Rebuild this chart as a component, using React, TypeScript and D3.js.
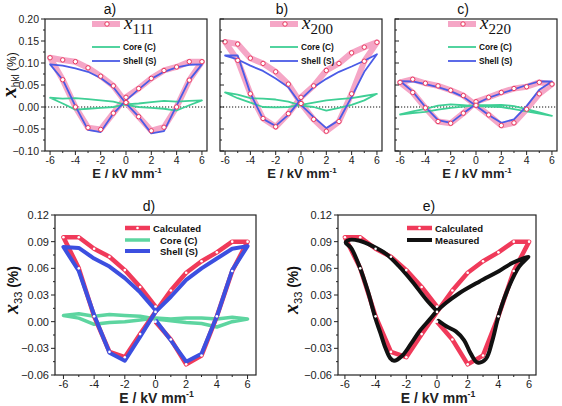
import React from "react";
import * as d3 from "d3";

// ---------- data ----------
// loop field sequence (kV/mm) shared by the calculated/core/shell loops
const LOOP_E = [0, 1, 2, 3, 4, 5, 6, 5, 4, 3, 2, 1, 0, -1, -2, -3, -4, -5, -6, -5, -4, -3, -2, -1, 0];

// panel a) x111
const A_CALC = [0.010, -0.022, -0.054, -0.046, 0.0, 0.061, 0.103, 0.103, 0.091, 0.083, 0.065, 0.042, 0.022, -0.014, -0.051, -0.047, 0.0, 0.062, 0.112, 0.107, 0.103, 0.089, 0.070, 0.048, 0.010];
const A_CORE = [0.005, 0.0, -0.002, -0.004, -0.008, 0.004, 0.015, 0.014, 0.012, 0.014, 0.011, 0.008, 0.006, 0.0, -0.002, -0.004, -0.006, 0.008, 0.021, 0.019, 0.020, 0.018, 0.015, 0.012, 0.005];
const A_SHELL = [0.008, -0.022, -0.060, -0.055, 0.003, 0.061, 0.097, 0.096, 0.090, 0.080, 0.064, 0.040, 0.015, -0.015, -0.057, -0.052, 0.002, 0.062, 0.097, 0.094, 0.088, 0.080, 0.066, 0.045, 0.008];

// panel b) x200
const B_CALC = [0.008, -0.028, -0.055, -0.033, 0.030, 0.104, 0.147, 0.136, 0.123, 0.099, 0.083, 0.048, 0.022, -0.015, -0.045, -0.026, 0.030, 0.106, 0.148, 0.143, 0.111, 0.099, 0.080, 0.052, 0.008];
const B_CORE = [0.003, 0.0, -0.008, -0.002, 0.005, 0.015, 0.030, 0.025, 0.020, 0.018, 0.015, 0.010, 0.005, 0.0, -0.001, 0.0, 0.010, 0.020, 0.033, 0.028, 0.020, 0.019, 0.017, 0.012, 0.003];
const B_SHELL = [0.005, -0.023, -0.048, -0.030, 0.023, 0.080, 0.120, 0.105, 0.092, 0.080, 0.064, 0.045, 0.018, -0.018, -0.043, -0.027, 0.031, 0.117, 0.117, 0.108, 0.094, 0.082, 0.065, 0.045, 0.005];

// panel c) x220
const C_CALC = [0.004, -0.018, -0.042, -0.036, -0.005, 0.030, 0.052, 0.056, 0.046, 0.042, 0.033, 0.022, 0.012, -0.014, -0.037, -0.033, -0.002, 0.033, 0.056, 0.063, 0.054, 0.048, 0.038, 0.026, 0.004];
const C_CORE = [0.004, 0.004, 0.005, 0.002, -0.005, -0.012, -0.020, -0.015, -0.010, -0.005, 0.0, 0.001, 0.002, 0.004, 0.006, 0.003, -0.004, -0.010, -0.017, -0.014, -0.011, -0.006, -0.002, 0.001, 0.004];
const C_SHELL = [0.003, -0.018, -0.036, -0.028, 0.002, 0.039, 0.058, 0.058, 0.050, 0.040, 0.031, 0.021, 0.007, -0.014, -0.036, -0.030, 0.0, 0.035, 0.059, 0.058, 0.052, 0.045, 0.036, 0.023, 0.003];

// panels d) / e) x33
const D_CALC = [0.0, -0.020, -0.048, -0.038, 0.006, 0.057, 0.090, 0.090, 0.078, 0.068, 0.055, 0.035, 0.011, -0.014, -0.040, -0.034, 0.006, 0.060, 0.095, 0.095, 0.082, 0.073, 0.058, 0.039, 0.017];
const D_CORE = [0.003, 0.001, -0.001, -0.002, -0.006, 0.0, 0.003, 0.005, 0.003, 0.004, 0.004, 0.003, 0.004, 0.002, 0.0, -0.001, -0.003, 0.004, 0.007, 0.009, 0.006, 0.008, 0.007, 0.006, 0.003];
const D_SHELL = [0.002, -0.021, -0.045, -0.036, 0.006, 0.058, 0.085, 0.082, 0.071, 0.060, 0.047, 0.028, 0.011, -0.017, -0.044, -0.035, 0.0075, 0.057, 0.084, 0.083, 0.071, 0.062, 0.049, 0.033, 0.013];

// measured loop (panel e)
const MEAS_E = [0.1, 0.69, 1.23, 1.77, 2.2, 2.64, 3.18, 3.61, 4.05, 4.7, 5.35, 5.9, 5.95, 4.9, 4.05, 2.75, 1.45, 0.58, 0.0, -0.5, -1.15, -1.7, -2.25, -2.8, -3.05, -3.35, -3.7, -4.0, -4.5, -5.05, -5.6, -5.95, -5.7, -5.05, -4.2, -3.3, -2.45, -1.6, -0.7, -0.07];
const MEAS_V = [0.001, -0.006, -0.011, -0.021, -0.036, -0.046, -0.042, -0.021, 0.009, 0.040, 0.062, 0.072, 0.073, 0.066, 0.057, 0.045, 0.032, 0.021, 0.012, 0.002, -0.011, -0.025, -0.038, -0.044, -0.041, -0.030, -0.012, 0.003, 0.034, 0.062, 0.083, 0.089, 0.092, 0.091, 0.085, 0.076, 0.062, 0.045, 0.025, 0.013];

const X_TICKS = [-6, -4, -2, 0, 2, 4, 6];
const X_MINOR = [-5, -3, -1, 1, 3, 5];
const TOP_Y_TICKS = [-0.1, -0.05, 0, 0.05, 0.1, 0.15, 0.2];
const TOP_Y_MINOR = [-0.075, -0.025, 0.025, 0.075, 0.125, 0.175];
const BOT_Y_TICKS = [-0.06, -0.03, 0, 0.03, 0.06, 0.09, 0.12];
const BOT_Y_MINOR = [-0.045, -0.015, 0.015, 0.045, 0.075, 0.105];

const PINK = "#f5a6c6";
const PINK_EDGE = "#e8385e";
const GREEN = "#3fcf95";
const BLUE = "#4a5be6";
const RED = "#f03a5a";
const BLUE2 = "#3c4fe0";
const GREEN2 = "#5dd5a0";
const SANS = "'Liberation Sans', Arial, sans-serif";
const SERIF = "'Liberation Serif', 'Times New Roman', serif";

type Frame = { x0: number; x1: number; y0: number; y1: number };

function Axes(props: {
  f: Frame;
  x: d3.ScaleLinear<number, number>;
  y: d3.ScaleLinear<number, number>;
  yTicks: number[];
  yMinor: number[];
  showYLabels: boolean;
  yInward: boolean;
  fs: number;
  xLabelY: number;
  titleY: number;
  titleFs: number;
}) {
  const { f, x, y, yTicks, yMinor, showYLabels, yInward, fs, xLabelY, titleY, titleFs } = props;
  const fmt = d3.format(".2f");
  const yd = yInward ? 1 : -1;
  return (
    <g>
      <rect x={f.x0} y={f.y0} width={f.x1 - f.x0} height={f.y1 - f.y0} fill="none" stroke="#222" strokeWidth={1.2} />
      {X_TICKS.map((t) => (
        <g key={"xt" + t}>
          <line x1={x(t)} x2={x(t)} y1={f.y1} y2={f.y1 + 4} stroke="#222" strokeWidth={1} />
          <text x={x(t)} y={xLabelY} fontSize={fs} fontFamily={SANS} textAnchor="middle" fill="#222">
            {t}
          </text>
        </g>
      ))}
      {X_MINOR.map((t) => (
        <line key={"xm" + t} x1={x(t)} x2={x(t)} y1={f.y1} y2={f.y1 + 2} stroke="#222" strokeWidth={1} />
      ))}
      {yTicks.map((t) => (
        <g key={"yt" + t}>
          <line x1={f.x0} x2={f.x0 + yd * 4} y1={y(t)} y2={y(t)} stroke="#222" strokeWidth={1} />
          {showYLabels && (
            <text x={f.x0 - 6} y={y(t) + fs * 0.36} fontSize={fs} fontFamily={SANS} textAnchor="end" fill="#222">
              {fmt(t)}
            </text>
          )}
        </g>
      ))}
      {yMinor.map((t) => (
        <line key={"ym" + t} x1={f.x0} x2={f.x0 + yd * 2} y1={y(t)} y2={y(t)} stroke="#222" strokeWidth={1} />
      ))}
      <text x={(f.x0 + f.x1) / 2 + 1} y={titleY} fontSize={titleFs} fontWeight="bold" fontFamily={SANS} textAnchor="middle" fill="#222">
        E / kV mm<tspan dy={-titleFs * 0.42} fontSize={titleFs * 0.62}>-1</tspan>
      </text>
    </g>
  );
}

function loopPath(x: d3.ScaleLinear<number, number>, y: d3.ScaleLinear<number, number>, es: number[], vs: number[], curve?: d3.CurveFactory) {
  const line = d3
    .line<number>()
    .x((_, i) => x(es[i]))
    .y((v) => y(v));
  if (curve) line.curve(curve);
  return line(vs) || "";
}

function TopPanel(props: {
  f: Frame;
  calc: number[];
  core: number[];
  shell: number[];
  label: string;
  sub: string;
  titleX: number;
  legX: number;
  showYLabels: boolean;
}) {
  const { f, calc, core, shell, label, sub, titleX, legX, showYLabels } = props;
  const x = d3.scaleLinear().domain([-6.4, 6.4]).range([f.x0, f.x1]);
  const y = d3.scaleLinear().domain([-0.1, 0.2]).range([f.y1, f.y0]);
  const clipId = "clip" + label.replace(/\W/g, "");
  return (
    <g>
      <defs>
        <clipPath id={clipId}>
          <rect x={f.x0} y={f.y0} width={f.x1 - f.x0} height={f.y1 - f.y0} />
        </clipPath>
      </defs>
      <text x={titleX} y={14} fontSize={14} fontFamily={SANS} textAnchor="middle" fill="#111">
        {label}
      </text>
      <g clipPath={`url(#${clipId})`}>
        <line x1={f.x0} x2={f.x1} y1={y(0)} y2={y(0)} stroke="#111" strokeWidth={1.1} strokeDasharray="1.2,1.8" />
        <path d={loopPath(x, y, LOOP_E, calc)} fill="none" stroke={PINK} strokeWidth={6} strokeLinejoin="round" />
        <path d={loopPath(x, y, LOOP_E, core)} fill="none" stroke={GREEN} strokeWidth={1.8} strokeLinejoin="round" />
        <path d={loopPath(x, y, LOOP_E, shell)} fill="none" stroke={BLUE} strokeWidth={1.8} strokeLinejoin="round" />
        {calc.map((v, i) => (
          <circle key={i} cx={x(LOOP_E[i])} cy={y(v)} r={2.2} fill="#fff" stroke={PINK_EDGE} strokeWidth={1} />
        ))}
      </g>
      <Axes f={f} x={x} y={y} yTicks={TOP_Y_TICKS} yMinor={TOP_Y_MINOR} showYLabels={showYLabels} yInward={!showYLabels} fs={10.5} xLabelY={164} titleY={178} titleFs={13} />
      {/* legend */}
      <line x1={legX} x2={legX + 28} y1={24} y2={24} stroke={PINK} strokeWidth={6} />
      <circle cx={legX + 15} cy={24} r={2.2} fill="#fff" stroke={PINK_EDGE} strokeWidth={1} />
      <text x={legX + 32} y={29} fontFamily={SERIF} fill="#111">
        <tspan fontSize={19} fontStyle="italic">x</tspan>
        <tspan fontSize={15} dy={5}>{sub}</tspan>
      </text>
      <line x1={legX} x2={legX + 28} y1={47} y2={47} stroke={GREEN} strokeWidth={1.8} />
      <text x={legX + 31} y={50} fontSize={8.3} fontWeight="bold" fontFamily={SANS} fill="#111">Core (C)</text>
      <line x1={legX} x2={legX + 28} y1={61} y2={61} stroke={BLUE} strokeWidth={1.8} />
      <text x={legX + 31} y={64} fontSize={8.3} fontWeight="bold" fontFamily={SANS} fill="#111">Shell (S)</text>
    </g>
  );
}

function BottomPanel(props: { f: Frame; xDom: number; label: string; titleX: number; measured: boolean; legX: number; ylabX: number }) {
  const { f, xDom, label, titleX, measured, legX, ylabX } = props;
  const x = d3.scaleLinear().domain([-xDom, xDom]).range([f.x0, f.x1]);
  const y = d3.scaleLinear().domain([-0.06, 0.12]).range([f.y1, f.y0]);
  return (
    <g>
      <text x={titleX} y={211} fontSize={14} fontFamily={SANS} textAnchor="middle" fill="#111">
        {label}
      </text>
      {!measured && (
        <path d={loopPath(x, y, LOOP_E, D_CORE)} fill="none" stroke={GREEN2} strokeWidth={3.5} strokeLinejoin="round" />
      )}
      <path d={loopPath(x, y, LOOP_E, D_CALC)} fill="none" stroke={RED} strokeWidth={4.5} strokeLinejoin="round" />
      {!measured && <path d={loopPath(x, y, LOOP_E, D_SHELL)} fill="none" stroke={BLUE2} strokeWidth={4} strokeLinejoin="round" />}
      {measured && (
        <path d={loopPath(x, y, MEAS_E, MEAS_V, d3.curveCatmullRom)} fill="none" stroke="#111" strokeWidth={4} strokeLinejoin="round" strokeLinecap="round" />
      )}
      {D_CALC.map((v, i) => (
        <circle key={i} cx={x(LOOP_E[i])} cy={y(v)} r={1.3} fill="#fff" />
      ))}
      <Axes f={f} x={x} y={y} yTicks={BOT_Y_TICKS} yMinor={BOT_Y_MINOR} showYLabels={true} yInward={false} fs={11} xLabelY={388} titleY={403} titleFs={14} />
      {/* y label */}
      <text transform={`translate(${ylabX},290) rotate(-90)`} textAnchor="middle" fill="#111">
        <tspan fontFamily={SERIF} fontStyle="italic" fontWeight="bold" fontSize={20}>x</tspan>
        <tspan fontFamily={SANS} fontSize={11} dy={4}>33</tspan>
        <tspan fontFamily={SANS} fontSize={14} fontWeight="bold" dy={-4}> (%)</tspan>
      </text>
      {/* legend */}
      <line x1={legX} x2={legX + 25} y1={228} y2={228} stroke={RED} strokeWidth={4.5} />
      <circle cx={legX + 12.5} cy={228} r={1.3} fill="#fff" />
      <text x={legX + 28} y={231.5} fontSize={9.5} fontWeight="bold" fontFamily={SANS} fill="#111">Calculated</text>
      {measured ? (
        <>
          <line x1={legX} x2={legX + 25} y1={240} y2={240} stroke="#111" strokeWidth={4} />
          <text x={legX + 28} y={243.5} fontSize={9.5} fontWeight="bold" fontFamily={SANS} fill="#111">Measured</text>
        </>
      ) : (
        <>
          <line x1={legX} x2={legX + 25} y1={240} y2={240} stroke={GREEN2} strokeWidth={3.5} />
          <text x={legX + 35} y={243.5} fontSize={9.5} fontWeight="bold" fontFamily={SANS} fill="#111">Core (C)</text>
          <line x1={legX} x2={legX + 25} y1={251} y2={251} stroke={BLUE2} strokeWidth={4} />
          <text x={legX + 35} y={254.5} fontSize={9.5} fontWeight="bold" fontFamily={SANS} fill="#111">Shell (S)</text>
        </>
      )}
    </g>
  );
}

export default function App() {
  const fa = { x0: 45, x1: 207, y0: 19, y1: 151 };
  const fb = { x0: 220, x1: 382, y0: 19, y1: 151 };
  const fc = { x0: 395, x1: 557, y0: 19, y1: 151 };
  const fd = { x0: 55, x1: 256, y0: 215, y1: 375 };
  const fe = { x0: 338, x1: 536, y0: 215, y1: 375 };
  return (
    <svg width={562} height={406} style={{ position: "absolute", left: 0, top: 0, background: "#fff" }}>
      <rect x={0} y={0} width={562} height={406} fill="#fff" />
      <TopPanel f={fa} calc={A_CALC} core={A_CORE} shell={A_SHELL} label="a)" sub="111" titleX={110} legX={92} showYLabels={true} />
      <TopPanel f={fb} calc={B_CALC} core={B_CORE} shell={B_SHELL} label="b)" sub="200" titleX={282} legX={270} showYLabels={false} />
      <TopPanel f={fc} calc={C_CALC} core={C_CORE} shell={C_SHELL} label="c)" sub="220" titleX={463} legX={448} showYLabels={false} />
      {/* top y label */}
      <text transform="translate(16,75) rotate(-90)" textAnchor="middle" fill="#111">
        <tspan fontFamily={SERIF} fontStyle="italic" fontWeight="bold" fontSize={21}>x</tspan>
        <tspan fontFamily={SANS} fontSize={10} dy={3}>hkl</tspan>
        <tspan fontFamily={SANS} fontSize={12} dy={-3}> (%)</tspan>
      </text>
      <BottomPanel f={fd} xDom={6.55} label="d)" titleX={149} measured={false} legX={125} ylabX={18} />
      <BottomPanel f={fe} xDom={6.45} label="e)" titleX={429} measured={true} legX={407} ylabX={298} />
    </svg>
  );
}
